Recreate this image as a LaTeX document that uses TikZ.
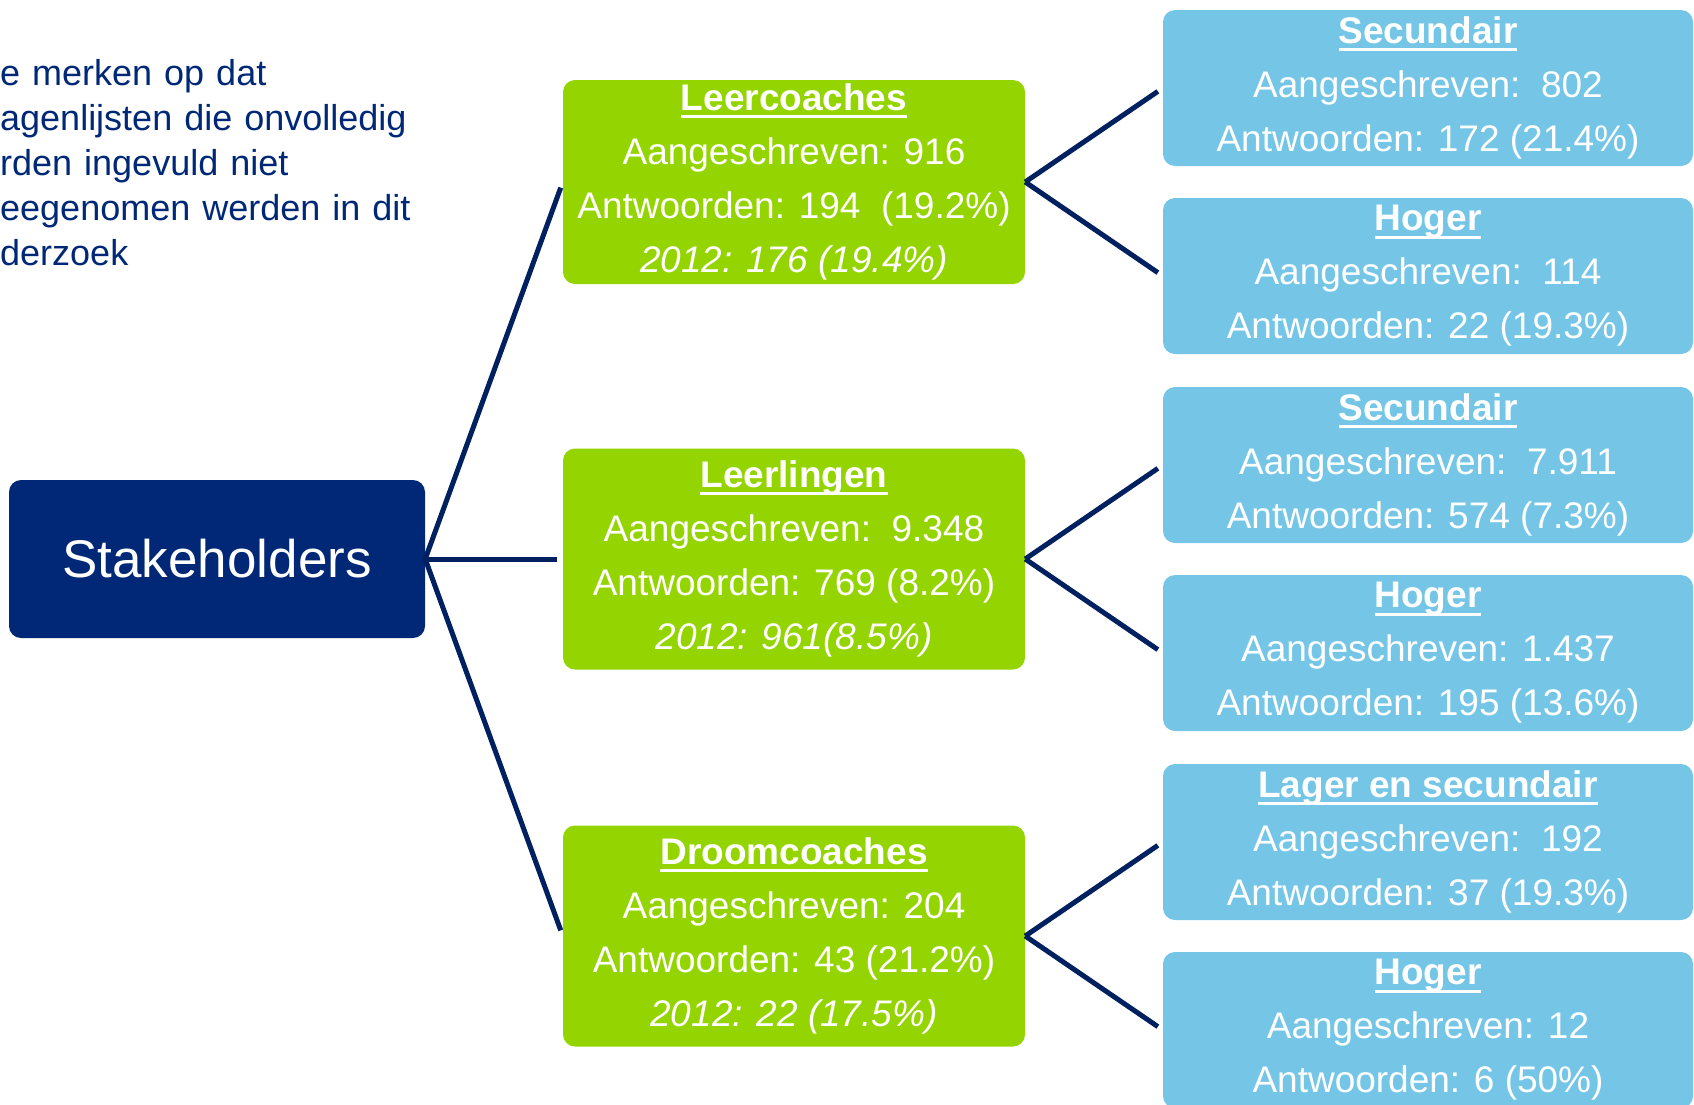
\documentclass[tikz,border=0pt]{standalone}
\usepackage{fontspec}
\setmainfont{Liberation Sans}
\usetikzlibrary{positioning}
\definecolor{navydark}{RGB}{0, 40, 118}
\definecolor{linenavy}{RGB}{0, 32, 96}
\definecolor{limegreen}{RGB}{148, 212, 0}
\definecolor{skyblue}{RGB}{117, 198, 230}
\newcommand{\boxtitle}[1]{{\bfseries\setbox0\hbox{#1}\rlap{\rule[-0.21em]{\wd0}{0.08em}}\box0}}

\begin{document}
\begin{tikzpicture}[
    level 1/.style={sibling distance=377pt, level distance=577pt},
    level 2/.style={sibling distance=188pt, level distance=634pt},
    every node/.style={rectangle, rounded corners=12pt, align=center, text=white, inner sep=0pt, font=\fontsize{37}{54}\selectfont},
    edge from parent/.style={draw, line width=5pt, color=linenavy, shorten >=6pt},
    edge from parent path={(\tikzparentnode.east) -- (\tikzchildnode.west)},
    groupbox/.style={fill=limegreen, minimum width=462pt, minimum height=221pt},
    subbox/.style={fill=skyblue, minimum width=530pt, minimum height=156pt},
    grow=right
  ]

\useasboundingbox (0pt,0pt) rectangle (1694pt,-1104pt);

% note in the upper left corner
\node[anchor=base west, text=navydark, text width=440pt, align=left, rounded corners=0pt, font=\fontsize{36}{45}\selectfont] (note) at (0pt,-85pt)
  {e merken op dat\\agenlijsten die onvolledig\\rden ingevuld niet\\eegenomen werden in dit\\derzoek};

\node[fill=navydark, minimum width=416pt, minimum height=158pt, font=\fontsize{53}{60}\selectfont] (stake) at (217pt,-559pt) {Stakeholders}
  child {node[groupbox] (droom) {\boxtitle{Droomcoaches}\\Aangeschreven: 204\\Antwoorden: 43 (21.2\%)\\\textit{2012: 22 (17.5\%)}}
    child {node[subbox] (droom-hoger) {\boxtitle{Hoger}\\Aangeschreven: 12\\Antwoorden: 6 (50\%)}}
    child {node[subbox] (droom-lager) {\boxtitle{Lager en secundair}\\Aangeschreven:\ \ 192\\Antwoorden: 37 (19.3\%)}}
  }
  child {node[groupbox] (leerling) {\boxtitle{Leerlingen}\\Aangeschreven:\ \ 9.348\\Antwoorden: 769 (8.2\%)\\\textit{2012: 961(8.5\%)}}
    child {node[subbox] (leerling-hoger) {\boxtitle{Hoger}\\Aangeschreven: 1.437\\Antwoorden: 195 (13.6\%)}}
    child {node[subbox] (leerling-sec) {\boxtitle{Secundair}\\Aangeschreven:\ \ 7.911\\Antwoorden: 574 (7.3\%)}}
  }
  child {node[groupbox, minimum height=204pt] (leercoach) {\boxtitle{Leercoaches}\\Aangeschreven: 916\\Antwoorden: 194\ \ (19.2\%)\\\textit{2012: 176 (19.4\%)}}
    child {node[subbox] (leercoach-hoger) {\boxtitle{Hoger}\\Aangeschreven:\ \ 114\\Antwoorden: 22 (19.3\%)}}
    child {node[subbox] (leercoach-sec) {\boxtitle{Secundair}\\Aangeschreven:\ \ 802\\Antwoorden: 172 (21.4\%)}}
  };

\end{tikzpicture}
\end{document}
